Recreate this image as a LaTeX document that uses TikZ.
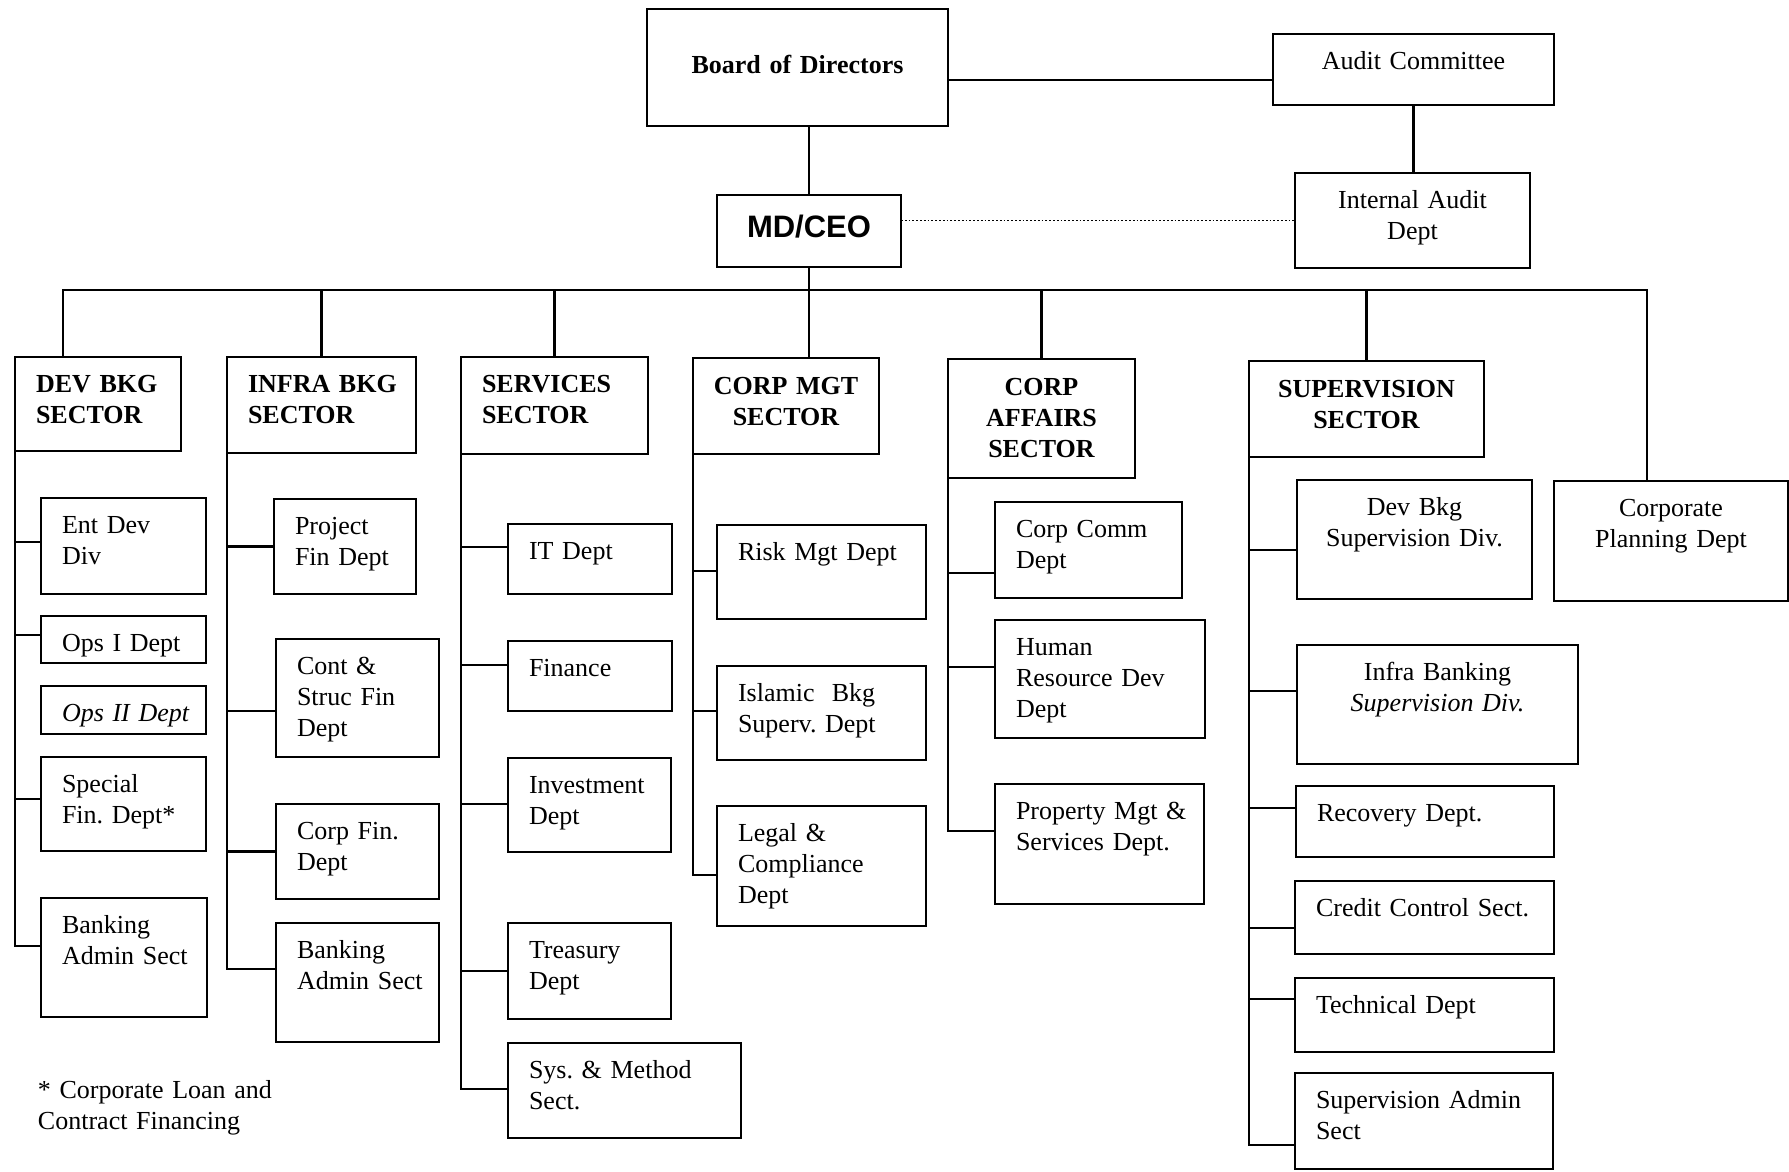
\documentclass[tikz,border=0pt]{standalone}
\usepackage{fontspec}
\setmainfont{Liberation Serif}
\newfontfamily\ceofont{Liberation Sans}
\usetikzlibrary{calc}
\frenchspacing

\tikzset{
  orgbox/.style={draw, rectangle, line width=1.3pt, inner sep=0pt, outer sep=0pt},
  boxtext/.style={inner sep=0pt, outer sep=0pt, font=\fontsize{13}{15.5}\selectfont\frenchspacing},
  link/.style={line width=1.2pt},
  dotlink/.style={line width=0.9pt, densely dotted},
}

% box with its label set flush left, first baseline 35 units below the top
\newcommand\lbox[6]{%
  \pgfmathsetmacro\obW{(#4-#2)*0.5}\pgfmathsetmacro\obH{(#5-#3)*0.5}%
  \node[orgbox, minimum width=\obW pt, minimum height=\obH pt, anchor=north west] (#1) at (#2,#3) {};
  \node[boxtext, anchor=base west, text width=\obW pt, align=left] (#1-t) at (#2+21,#3+35) {#6};
}
% box with its label centred, first baseline #6 units below the top
\newcommand\cbox[7]{%
  \pgfmathsetmacro\obW{(#4-#2)*0.5}\pgfmathsetmacro\obH{(#5-#3)*0.5}%
  \node[orgbox, minimum width=\obW pt, minimum height=\obH pt, anchor=north west] (#1) at (#2,#3) {};
  \node[boxtext, anchor=base, text width=\obW pt, align=center] (#1-t) at ({(#2+#4)/2},#3+#6) {#7};
}
% feeder line from a sector's spine to one of its units
\newcommand\feed[3]{\draw[link] (#1.south west) |- ([yshift=#3pt]#2.west);}

\begin{document}
\begin{tikzpicture}[x=0.5pt, y=-0.5pt]
\useasboundingbox (0,0) rectangle (1789,1172);

% top management
\cbox{board}{647}{9}{948}{126}{65}{\bfseries Board of Directors}
\cbox{audit}{1273}{34}{1554}{105}{36}{Audit Committee}
\cbox{md}{717}{195}{901}{267}{42}{\ceofont\bfseries\fontsize{15.5}{18}\selectfont MD/CEO}
\cbox{ia}{1295}{173}{1530}{268}{35}{Internal Audit\\Dept}

% sectors
\lbox{devsec}{15}{357}{181}{451}{\bfseries DEV BKG\\SECTOR}
\lbox{infrasec}{227}{357}{416}{453}{\bfseries INFRA BKG\\SECTOR}
\lbox{servsec}{461}{357}{648}{454}{\bfseries SERVICES\\SECTOR}
\cbox{cmgtsec}{693}{358}{879}{454}{36}{\bfseries CORP MGT\\SECTOR}
\cbox{caffsec}{948}{359}{1135}{478}{36}{\bfseries CORP\\AFFAIRS\\SECTOR}
\cbox{supsec}{1249}{361}{1484}{457}{36}{\bfseries SUPERVISION\\SECTOR}
\cbox{cplan}{1554}{481}{1788}{601}{35}{Corporate\\Planning Dept}

% development banking
\lbox{entdev}{41}{498}{206}{594}{Ent Dev\\Div}
\lbox{opsone}{41}{616}{206}{663}{Ops I Dept}
\lbox{opstwo}{41}{686}{206}{734}{\itshape Ops II Dept}
\lbox{specfin}{41}{757}{206}{851}{Special\\Fin. Dept*}
\lbox{devadmin}{41}{898}{207}{1017}{Banking\\Admin Sect}

% infrastructure banking
\lbox{projfin}{274}{499}{416}{594}{Project\\Fin Dept}
\lbox{contfin}{276}{639}{439}{757}{Cont \&\\Struc Fin\\Dept}
\lbox{corpfin}{276}{804}{439}{899}{Corp Fin.\\Dept}
\lbox{infradmin}{276}{923}{439}{1042}{Banking\\Admin Sect}

% services
\lbox{itdept}{508}{524}{672}{594}{IT Dept}
\lbox{finance}{508}{641}{672}{711}{Finance}
\lbox{invest}{508}{758}{671}{852}{Investment\\Dept}
\lbox{treasury}{508}{923}{671}{1019}{Treasury\\Dept}
\lbox{sysmeth}{508}{1043}{741}{1138}{Sys. \& Method\\Sect.}

% corporate management
\lbox{risk}{717}{525}{926}{619}{Risk Mgt Dept}
\lbox{islamic}{717}{666}{926}{760}{Islamic\ \ Bkg\\Superv. Dept}
\lbox{legal}{717}{806}{926}{926}{Legal \&\\Compliance\\Dept}

% corporate affairs
\lbox{corpcomm}{995}{502}{1182}{598}{Corp Comm\\Dept}
\lbox{hrd}{995}{620}{1205}{738}{Human\\Resource Dev\\Dept}
\lbox{property}{995}{784}{1204}{904}{Property Mgt \&\\Services Dept.}

% supervision
\cbox{devsup}{1297}{480}{1532}{599}{35}{Dev Bkg\\Supervision Div.}
\cbox{infrasup}{1297}{645}{1578}{764}{35}{Infra Banking\\\textit{Supervision Div.}}
\lbox{recovery}{1296}{786}{1554}{857}{Recovery Dept.}
\lbox{credit}{1295}{881}{1554}{954}{Credit Control Sect.}
\lbox{technical}{1295}{978}{1554}{1052}{Technical Dept}
\lbox{supadmin}{1295}{1073}{1553}{1169}{Supervision Admin\\Sect}

% footnote
\node[boxtext, anchor=base west, text width=150pt, align=left] (note) at (38,1098)
  {* Corporate Loan and\\Contract Financing};

% top links
\draw[link] (md.north |- board.south) -- (md.north);
\draw[link] ([yshift=-6.25pt]board.east) -- ([yshift=-6.25pt]board.east -| audit.west);
\draw[link] (audit.south) -- (audit.south |- ia.north);
\draw[dotlink] (md.east |- ia.west) -- (ia.west);

% distribution bus below the MD/CEO
\coordinate (busmid) at (809,290);
\draw[link] ([xshift=-17.5pt]devsec.north) |- (busmid) -| ([xshift=-12pt]cplan.north);
\draw[link] (md.south) -- (md.south |- cmgtsec.north);
\foreach \s in {infrasec, servsec, caffsec, supsec}
  \draw[link] (\s.north) -- (\s.north |- busmid);

% feeders
\feed{devsec}{entdev}{2}
\feed{devsec}{opsone}{2.25}
\feed{devsec}{specfin}{2.5}
\feed{devsec}{devadmin}{5.75}

\feed{infrasec}{projfin}{0}
\feed{infrasec}{contfin}{-6.5}
\feed{infrasec}{corpfin}{0}
\feed{infrasec}{infradmin}{6.75}

\feed{servsec}{itdept}{6}
\feed{servsec}{finance}{5.5}
\feed{servsec}{invest}{0.5}
\feed{servsec}{treasury}{0}
\feed{servsec}{sysmeth}{0.75}

\feed{cmgtsec}{risk}{0.5}
\feed{cmgtsec}{islamic}{1}
\feed{cmgtsec}{legal}{-4.5}

\feed{caffsec}{corpcomm}{-11.5}
\feed{caffsec}{hrd}{6}
\feed{caffsec}{property}{6.5}

\feed{supsec}{devsup}{-5.25}
\feed{supsec}{infrasup}{6.75}
\feed{supsec}{recovery}{6.75}
\feed{supsec}{credit}{-5.25}
\feed{supsec}{technical}{8}
\feed{supsec}{supadmin}{-12}
\end{tikzpicture}
\end{document}
